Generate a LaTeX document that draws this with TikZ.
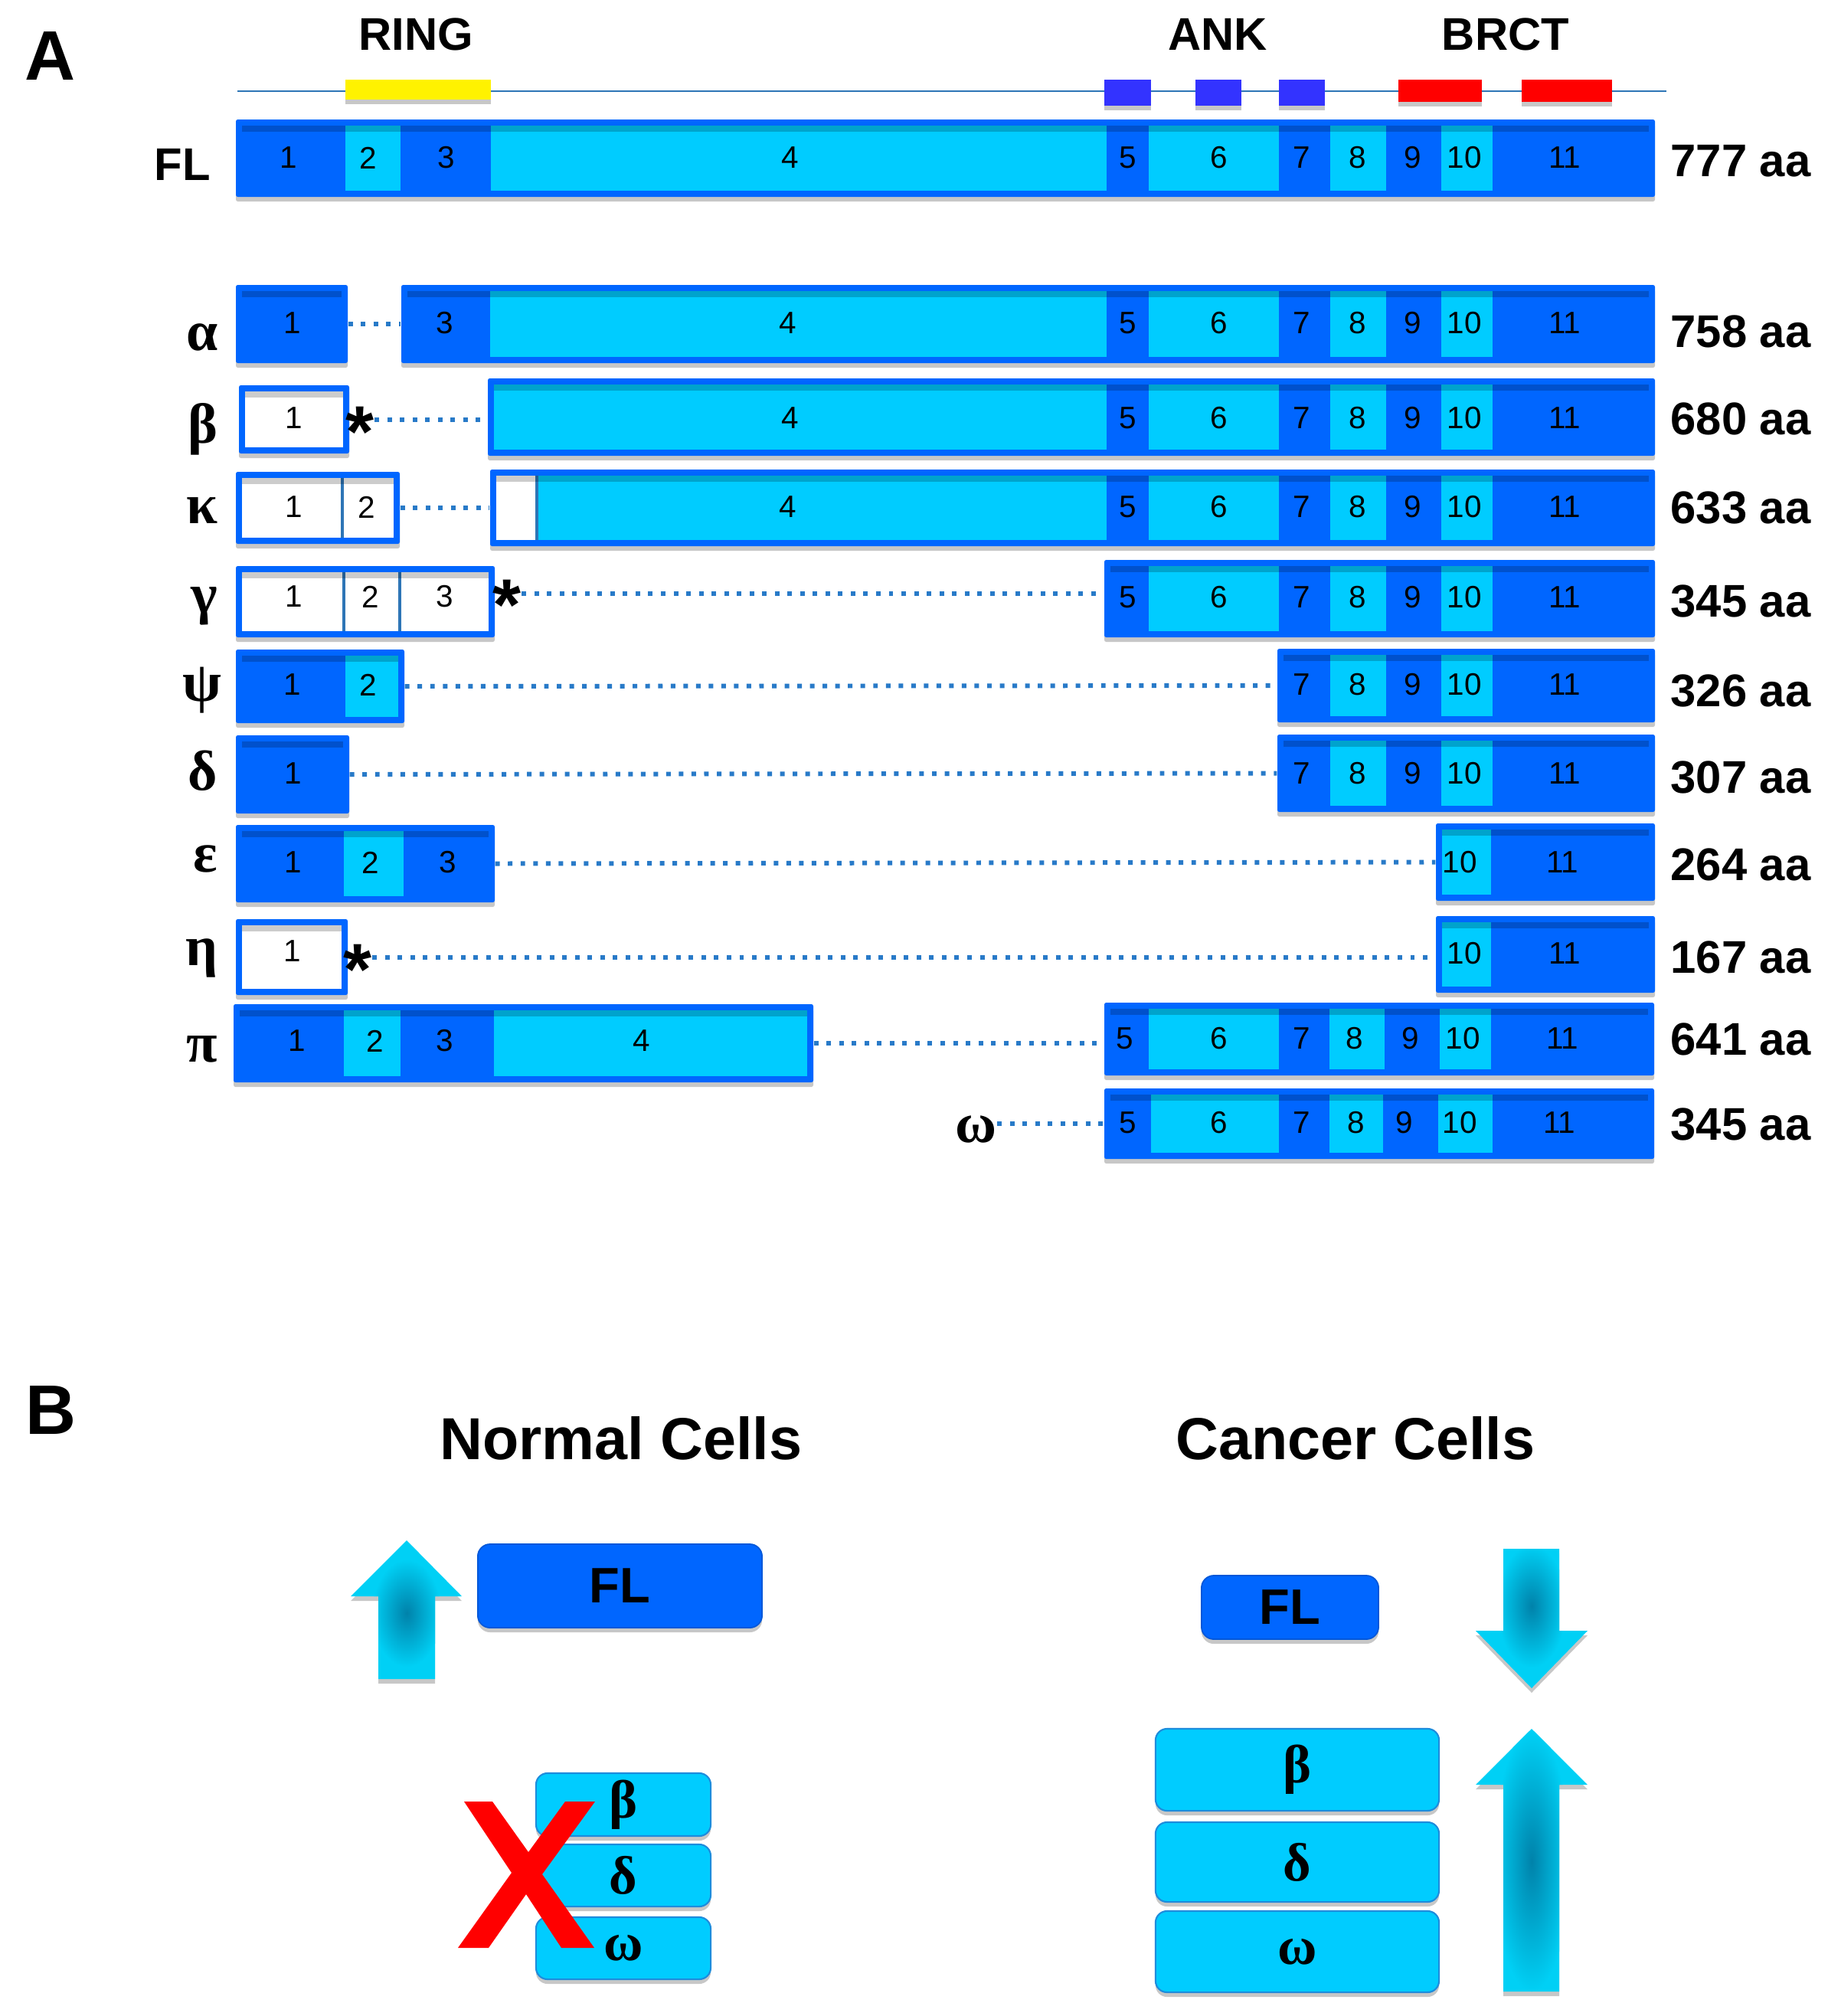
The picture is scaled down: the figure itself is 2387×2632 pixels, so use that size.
\documentclass[tikz,border=0pt]{standalone}
\usepackage{fontspec}
\setmainfont{Liberation Sans}
\newfontfamily\grk{Liberation Serif}
\usetikzlibrary{shadows,fit}
\definecolor{dkb}{RGB}{0,102,255}
\definecolor{ltb}{RGB}{0,204,255}
\definecolor{stl}{RGB}{46,117,182}
\definecolor{dotcol}{RGB}{40,122,200}
\definecolor{ankc}{RGB}{51,51,255}
\definecolor{arrC}{RGB}{0,208,245}
\definecolor{arrD}{RGB}{0,130,170}
\definecolor{bxl}{RGB}{30,140,220}
\tikzset{
 lab/.style={font=\fontsize{17pt}{20pt}\selectfont\bfseries, inner sep=0pt},
 aal/.style={lab, anchor=base west},
 num/.style={font=\fontsize{11.5pt}{13pt}\selectfont, inner sep=0pt},
 grl/.style={font=\grk\fontsize{21pt}{24pt}\selectfont\bfseries, inner sep=0pt, anchor=base east},
 big/.style={font=\fontsize{26pt}{30pt}\selectfont\bfseries, inner sep=0pt},
 ttl/.style={font=\fontsize{22pt}{26pt}\selectfont\bfseries, inner sep=0pt},
 dotc/.style={dotcol, line width=1.7pt, dash pattern=on 1.7pt off 3pt},
 shd/.style={drop shadow={shadow xshift=0pt, shadow yshift=-0.06cm, opacity=0.22, fill=black}},
 astk/.style={font=\fontsize{27pt}{30pt}\selectfont\bfseries, inner sep=0pt, anchor=base},
 flb/.style={fill=dkb, draw=dkb!85!black, line width=0.5pt, rounded corners=0.16cm, shd, font=\fontsize{18.5pt}{22pt}\selectfont\bfseries, inner sep=0pt},
 gbx/.style={fill=ltb, draw=bxl, line width=0.6pt, rounded corners=0.15cm, shd, font=\grk\fontsize{20pt}{24pt}\selectfont\bfseries, inner sep=0pt},
}
\newcommand\exbox[6]{%
  \fill[dkb, shd, rounded corners=0.025cm] (#2,#4) rectangle (#3,#5);
  \fill[#6] ({#2+8},{#4+8}) rectangle ({#3-8},{#5-8});
  \node[inner sep=0pt, fit={(#2,#4) (#3,#5)}] (#1) {};
}
\newcommand\lgt[4]{\fill[ltb] (#1,{#3+8}) rectangle (#2,{#4-8});}
\newcommand\exband[3]{\fill[black, opacity=0.2] ({#1+8},{#3+8}) rectangle ({#2-8},{#3+16});}
\newcommand\nums[3]{\foreach \x/\t in {#3} {\node[num] (#1-\t) at (\x,#2) {\t};}}
\begin{document}
\begin{tikzpicture}[x=0.01cm, y=-0.01cm]
\useasboundingbox (0,0) rectangle (2387,2632);

% ---------- Panel A ----------
\node[big] (Alab) at (66,73) {A};
\draw[stl, line width=0.8pt] (310,119) -- (2176,119);
\fill[yellow, shd] (451,104) rectangle (641,130);
\fill[ankc, shd] (1442,104) rectangle (1503,138);
\fill[ankc, shd] (1561,104) rectangle (1621,138);
\fill[ankc, shd] (1670,104) rectangle (1730,138);
\fill[red, shd] (1826,104) rectangle (1935,133);
\fill[red, shd] (1987,104) rectangle (2105,133);
\node[lab] (ring) at (543,45) {RING};
\node[lab] (ank) at (1590,45) {ANK};
\node[lab] (brct) at (1966,45) {BRCT};

% FL
\exbox{flr}{308}{2161}{156}{257}{dkb}
\foreach \a/\b in {451/523,641/1445,1500/1670,1737/1810,1882/1949}{\lgt{\a}{\b}{156}{257}}
\exband{308}{2161}{156}
\nums{fl}{206}{377/1,481/2,583/3,1032/4,1473/5,1592/6,1700/7,1773/8,1845/9,1912/10,2043/11}
\node[lab] (flname) at (238,215) {FL};
\node[aal] (flaa) at (2181,230) {777 aa};

% alpha
\exbox{al1}{308}{454}{372}{474}{dkb}
\exband{308}{454}{372}
\exbox{al2}{524}{2161}{372}{474}{dkb}
\foreach \a/\b in {640/1445,1500/1670,1737/1810,1882/1949}{\lgt{\a}{\b}{372}{474}}
\exband{524}{2161}{372}
\nums{al}{422}{382/1,581/3,1029/4,1473/5,1592/6,1700/7,1773/8,1845/9,1912/10,2043/11}
\draw[dotc] (al1.east) -- (al2.west);
\node[grl] (alg) at (285,457) {α};
\node[aal] (alaa) at (2181,453) {758 aa};

% beta
\exbox{be1}{312}{456}{503}{592}{white}
\exband{312}{456}{503}
\exbox{be2}{637}{2161}{494}{595}{dkb}
\foreach \a/\b in {645/1445,1500/1670,1737/1810,1882/1949}{\lgt{\a}{\b}{494}{595}}
\exband{637}{2161}{494}
\nums{be}{546}{384/1,1032/4,1473/5,1592/6,1700/7,1773/8,1845/9,1912/10,2043/11}
\node[astk] (bst) at (470,596) {*};
\draw[dotc] (bst.east |- be1.east) -- (be2.west |- be1.east);
\node[grl] (beg) at (285,578) {β};
\node[aal] (beaa) at (2181,567) {680 aa};

% kappa
\exbox{ka1}{308}{522}{616}{710}{white}
\draw[stl, line width=1pt] (447,624) -- (447,702);
\exband{308}{522}{616}
\exbox{ka2}{640}{2161}{613}{713}{dkb}
\fill[white] (648,621) rectangle (701,705);
\foreach \a/\b in {701/1445,1500/1670,1737/1810,1882/1949}{\lgt{\a}{\b}{613}{713}}
\draw[stl, line width=1pt] (701,621) -- (701,705);
\exband{640}{2161}{613}
\nums{ka}{662}{384/1,479/2,1029/4,1473/5,1592/6,1700/7,1773/8,1845/9,1912/10,2043/11}
\draw[dotc] (ka1.east) -- (ka2.west);
\node[grl] (kag) at (285,683) {κ};
\node[aal] (kaaa) at (2181,683) {633 aa};

% gamma
\exbox{ga1}{308}{646}{739}{832}{white}
\draw[stl, line width=1pt] (449,747) -- (449,824);
\draw[stl, line width=1pt] (522,747) -- (522,824);
\exband{308}{646}{739}
\exbox{ga2}{1442}{2161}{731}{832}{dkb}
\foreach \a/\b in {1500/1670,1737/1810,1882/1949}{\lgt{\a}{\b}{731}{832}}
\exband{1442}{2161}{731}
\nums{gaa}{779}{384/1,484/2,581/3}
\nums{gab}{780}{1473/5,1592/6,1700/7,1773/8,1845/9,1912/10,2043/11}
\node[astk] (gst) at (662,822) {*};
\coordinate (gdot) at (700,775);
\draw[dotc] (gst.east |- gdot) -- (ga2.west |- gdot);
\node[grl] (gag) at (285,800) {γ};
\node[aal] (gaaa) at (2181,805) {345 aa};

% psi
\exbox{ps1}{308}{528}{848}{944}{dkb}
\lgt{451}{520}{848}{944}
\exband{308}{528}{848}
\exbox{ps2}{1668}{2161}{847}{943}{dkb}
\foreach \a/\b in {1737/1810,1882/1949}{\lgt{\a}{\b}{847}{943}}
\exband{1668}{2161}{847}
\nums{ps}{894}{382/1,481/2,1700/7,1773/8,1845/9,1912/10,2043/11}
\draw[dotc] (ps1.east) -- (ps2.west);
\node[grl] (psg) at (290,915) {ψ};
\node[aal] (psaa) at (2181,922) {326 aa};

% delta
\exbox{de1}{308}{456}{960}{1062}{dkb}
\exband{308}{456}{960}
\exbox{de2}{1668}{2161}{959}{1060}{dkb}
\foreach \a/\b in {1737/1810,1882/1949}{\lgt{\a}{\b}{959}{1060}}
\exband{1668}{2161}{959}
\nums{de}{1010}{383/1,1700/7,1773/8,1845/9,1912/10,2043/11}
\draw[dotc] (de1.east) -- (de2.west);
\node[grl] (deg) at (285,1031) {δ};
\node[aal] (deaa) at (2181,1035) {307 aa};

% epsilon
\exbox{ep1}{308}{646}{1077}{1178}{dkb}
\lgt{449}{527}{1077}{1178}
\exband{308}{646}{1077}
\exbox{ep2}{1875}{2161}{1075}{1176}{dkb}
\lgt{1883}{1947}{1075}{1176}
\exband{1875}{2161}{1075}
\nums{ep}{1126}{383/1,484/2,585/3,1906/10,2040/11}
\draw[dotc] (ep1.east) -- (ep2.west);
\node[grl] (epg) at (285,1138) {ε};
\node[aal] (epaa) at (2181,1149) {264 aa};

% eta
\exbox{et1}{308}{454}{1200}{1299}{white}
\exband{308}{454}{1200}
\exbox{et2}{1875}{2161}{1196}{1296}{dkb}
\lgt{1883}{1947}{1196}{1296}
\exband{1875}{2161}{1196}
\nums{et}{1245}{1912/10,2043/11}
\node[num] (et-1) at (382,1242) {1};
\node[astk] (est) at (467,1298) {*};
\draw[dotc] (est.east |- et1.east) -- (et2.west |- et1.east);
\node[grl] (etg) at (285,1260) {η};
\node[aal] (etaa) at (2181,1270) {167 aa};

% pi
\exbox{pi1}{305}{1062}{1311}{1413}{dkb}
\foreach \a/\b in {449/523,645/1054}{\lgt{\a}{\b}{1311}{1413}}
\exband{305}{1062}{1311}
\exbox{pi2}{1442}{2160}{1309}{1404}{dkb}
\foreach \a/\b in {1500/1670,1736/1808,1880/1947}{\lgt{\a}{\b}{1309}{1404}}
\exband{1442}{2160}{1309}
\nums{pia}{1359}{388/1,490/2,581/3,838/4}
\nums{pib}{1356}{1469/5,1592/6,1700/7,1769/8,1842/9,1910/10,2040/11}
\draw[dotc] (pi1.east) -- (pi1.east -| pi2.west);
\node[grl] (pig) at (285,1386) {π};
\node[aal] (piaa) at (2181,1377) {641 aa};

% omega
\exbox{om2}{1442}{2160}{1421}{1513}{dkb}
\foreach \a/\b in {1503/1670,1736/1806,1878/1949}{\lgt{\a}{\b}{1421}{1513}}
\exband{1442}{2160}{1421}
\nums{om}{1466}{1473/5,1592/6,1700/7,1771/8,1834/9,1906/10,2036/11}
\node[grl] (omg) at (1302,1491) {ω};
\draw[dotc] (omg.east |- om2.west) -- (om2.west);
\node[aal] (omaa) at (2181,1488) {345 aa};

% ---------- Panel B ----------
\node[big] (Blab) at (67,1841) {B};
\node[ttl] (ncells) at (811,1878) {Normal Cells};
\node[ttl] (ccells) at (1770,1878) {Cancer Cells};

% normal up arrow
\fill[arrC, shd] (531,2011) -- (603,2084) -- (568,2084) -- (568,2192) -- (494,2192) -- (494,2084) -- (458,2084) -- cycle;
\begin{scope}
\clip (531,2011) -- (603,2084) -- (568,2084) -- (568,2192) -- (494,2192) -- (494,2084) -- (458,2084) -- cycle;
\shade[inner color=arrD, outer color=arrC] (531,2106) ellipse [x radius=0.45cm, y radius=0.7cm];
\end{scope}

\node[flb, minimum width=3.71cm, minimum height=1.09cm] (nfl) at (809.5,2070.5) {FL};

\node[gbx, minimum width=2.28cm, minimum height=0.82cm] (nbe) at (814,2356) {β};
\node[gbx, minimum width=2.28cm, minimum height=0.81cm] (nde) at (814,2448.5) {δ};
\node[gbx, minimum width=2.28cm, minimum height=0.81cm] (nom) at (814,2543.5) {ω};

% red X
\fill[red] (606,2352) -- (643,2352) -- (690,2418) -- (738,2352) -- (777,2352) -- (708,2447)
  -- (776,2543) -- (733,2543) -- (687,2473) -- (638,2543) -- (598,2543) -- (668,2445) -- cycle;

% cancer
\node[flb, minimum width=2.31cm, minimum height=0.83cm] (cfl) at (1684.5,2098.5) {FL};
\node[gbx, minimum width=3.70cm, minimum height=1.07cm] (cbe) at (1694,2310.5) {β};
\node[gbx, minimum width=3.70cm, minimum height=1.04cm] (cde) at (1694,2431) {δ};
\node[gbx, minimum width=3.70cm, minimum height=1.06cm] (com) at (1694,2548) {ω};

% cancer down arrow
\fill[arrC, shd] (1963,2022) -- (2036,2022) -- (2036,2129) -- (2073,2129) -- (2000,2204) -- (1927,2129) -- (1963,2129) -- cycle;
\begin{scope}
\clip (1963,2022) -- (2036,2022) -- (2036,2129) -- (2073,2129) -- (2000,2204) -- (1927,2129) -- (1963,2129) -- cycle;
\shade[inner color=arrD, outer color=arrC] (2000,2097) ellipse [x radius=0.45cm, y radius=0.8cm];
\end{scope}

% cancer up arrow
\fill[arrC, shd] (2000,2257) -- (2073,2330) -- (2036,2330) -- (2036,2600) -- (1963,2600) -- (1963,2330) -- (1927,2330) -- cycle;
\begin{scope}
\clip (2000,2257) -- (2073,2330) -- (2036,2330) -- (2036,2600) -- (1963,2600) -- (1963,2330) -- (1927,2330) -- cycle;
\shade[inner color=arrD, outer color=arrC] (2000,2430) ellipse [x radius=0.5cm, y radius=1.7cm];
\end{scope}
\end{tikzpicture}
\end{document}
